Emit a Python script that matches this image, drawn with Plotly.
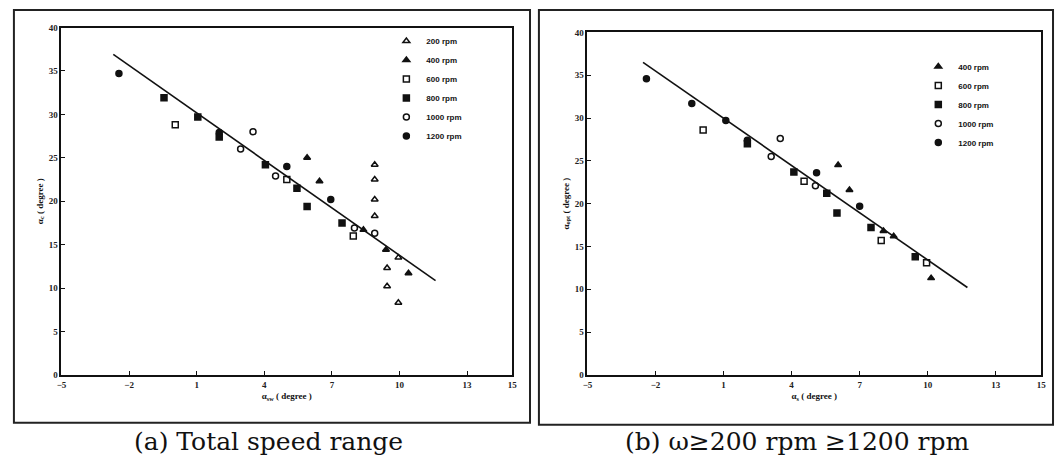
import plotly.graph_objects as go

# ---------------- data ----------------
speeds = ["200 rpm", "400 rpm", "600 rpm", "800 rpm", "1000 rpm", "1200 rpm"]
symbols = ["triangle-up-open", "triangle-up", "square-open", "square", "circle-open", "circle"]

# (a) Total speed range
a_200_x = [8.9, 8.9, 8.9, 8.9, 9.45, 9.45, 9.95, 9.95]
a_200_y = [24.2, 22.5, 20.2, 18.3, 12.3, 10.2, 13.5, 8.3]
a_400_x = [5.9, 6.45, 8.4, 9.4, 10.4]
a_400_y = [25.0, 22.3, 16.7, 14.4, 11.7]
a_600_x = [0.05, 5.0, 7.95]
a_600_y = [28.8, 22.5, 16.0]
a_800_x = [-0.45, 1.05, 2.0, 4.05, 5.45, 7.45, 5.9]
a_800_y = [31.9, 29.7, 27.4, 24.2, 21.5, 17.5, 19.4]
a_1000_x = [2.95, 3.5, 4.5, 8.9, 8.0]
a_1000_y = [26.0, 28.0, 22.9, 16.3, 16.9]
a_1200_x = [-2.45, 2.0, 5.0, 6.95]
a_1200_y = [34.7, 27.9, 24.0, 20.2]
a_fit_x = [-2.7, 11.6]
a_fit_y = [36.9, 10.85]

# (b) 400 .. 1200 rpm
b_400_x = [6.05, 6.55, 8.5, 10.15, 8.05]
b_400_y = [24.5, 21.6, 16.2, 11.3, 16.8]
b_600_x = [0.1, 7.95, 9.95, 4.55]
b_600_y = [28.6, 15.7, 13.1, 22.6]
b_800_x = [2.05, 4.1, 5.55, 6.0, 7.5, 9.45]
b_800_y = [27.0, 23.7, 21.2, 18.9, 17.2, 13.8]
b_1000_x = [3.5, 3.1, 5.05]
b_1000_y = [27.6, 25.5, 22.1]
b_1200_x = [-2.4, -0.4, 1.1, 2.05, 5.1, 7.0]
b_1200_y = [34.6, 31.7, 29.7, 27.4, 23.6, 19.7]
b_fit_x = [-2.55, 11.75]
b_fit_y = [36.5, 10.2]

x_ticks = [-5, -2, 1, 4, 7, 10, 13, 15]
y_ticks = [0, 5, 10, 15, 20, 25, 30, 35, 40]

left_title_y = "α<sub>c</sub> ( degree )"
left_title_x = "α<sub>sw</sub> ( degree )"
right_title_y = "α<sub>opt</sub> ( degree )"
right_title_x = "α<sub>s</sub> ( degree )"
caption_a = "(a) Total speed range"
caption_b = "(b) ω≥200 rpm ≥1200 rpm"

# ---------------- figure ----------------
W, H = 1060, 464
fig = go.Figure()

def px(x):
    return x / W

def py(y):
    return 1 - y / H

mk = dict(color="#111", size=6, line=dict(color="#111", width=1.5))

a_sets = [(a_200_x, a_200_y), (a_400_x, a_400_y), (a_600_x, a_600_y),
          (a_800_x, a_800_y), (a_1000_x, a_1000_y), (a_1200_x, a_1200_y)]
for name, sym, (xs, ys) in zip(speeds, symbols, a_sets):
    fig.add_trace(go.Scatter(x=xs, y=ys, mode="markers", name=name,
                             marker=dict(symbol=sym, **mk),
                             xaxis="x", yaxis="y", legend="legend"))
fig.add_trace(go.Scatter(x=a_fit_x, y=a_fit_y, mode="lines", showlegend=False,
                         line=dict(color="#111", width=1.6), xaxis="x", yaxis="y"))

b_sets = [(b_400_x, b_400_y), (b_600_x, b_600_y), (b_800_x, b_800_y),
          (b_1000_x, b_1000_y), (b_1200_x, b_1200_y)]
for name, sym, (xs, ys) in zip(speeds[1:], symbols[1:], b_sets):
    fig.add_trace(go.Scatter(x=xs, y=ys, mode="markers", name=name,
                             marker=dict(symbol=sym, **mk),
                             xaxis="x2", yaxis="y2", legend="legend2"))
fig.add_trace(go.Scatter(x=b_fit_x, y=b_fit_y, mode="lines", showlegend=False,
                         line=dict(color="#111", width=1.6), xaxis="x2", yaxis="y2"))

tickfont = dict(family="Liberation Serif", size=9, color="#222", weight="bold")
axis_common = dict(showline=True, linecolor="#111", linewidth=2, mirror=True,
                   showgrid=False, zeroline=False, ticks="inside", ticklen=4,
                   tickcolor="#111", tickfont=tickfont)
title_font = dict(size=9, family="Liberation Serif", weight="bold")
legend_font = dict(size=8, family="Liberation Sans", weight="bold", color="#111")
caption_font = dict(size=25, family="DejaVu Serif", color="#111")

fig.update_layout(
    width=W, height=H,
    margin=dict(l=0, r=0, t=0, b=0),
    paper_bgcolor="white", plot_bgcolor="white",
    font=dict(family="Liberation Serif", color="#111"),
    xaxis=dict(domain=[px(57), px(512)], range=[-5, 15], tickvals=x_ticks,
               anchor="y", title=dict(text=left_title_x, font=title_font, standoff=4),
               **axis_common),
    yaxis=dict(domain=[py(378), py(23)], range=[0, 40], tickvals=y_ticks,
               anchor="x", title=dict(text=left_title_y, font=title_font, standoff=4),
               **axis_common),
    xaxis2=dict(domain=[px(588), px(1046)], range=[-5, 15], tickvals=x_ticks,
                anchor="y2", title=dict(text=right_title_x, font=title_font, standoff=4),
                **axis_common),
    yaxis2=dict(domain=[py(378), py(28)], range=[0, 40], tickvals=y_ticks,
                anchor="x2", title=dict(text=right_title_y, font=title_font, standoff=4),
                **axis_common),
    legend=dict(x=px(385), y=py(22), xanchor="left", yanchor="top",
                bgcolor="rgba(0,0,0,0)", font=legend_font,
                tracegroupgap=0, itemwidth=30),
    legend2=dict(x=px(922), y=py(48), xanchor="left", yanchor="top",
                 bgcolor="rgba(0,0,0,0)", font=legend_font,
                 tracegroupgap=0, itemwidth=30),
    shapes=[
        dict(type="rect", xref="paper", yref="paper", x0=px(9), x1=px(530),
             y0=py(427), y1=py(5), line=dict(color="#222", width=2)),
        dict(type="rect", xref="paper", yref="paper", x0=px(539), x1=px(1058),
             y0=py(429), y1=py(5), line=dict(color="#222", width=2)),
    ],
    annotations=[
        dict(text=caption_a, x=px(266), y=py(446), xref="paper", yref="paper",
             xanchor="center", yanchor="middle", showarrow=False, font=caption_font),
        dict(text=caption_b, x=px(800), y=py(446), xref="paper", yref="paper",
             xanchor="center", yanchor="middle", showarrow=False, font=caption_font),
    ],
)

fig.write_html("out.html", config={"displayModeBar": False})

# remove the default page margin so the figure sits at the window origin
with open("out.html", "r", encoding="utf-8") as f:
    html = f.read()
html = html.replace("<head>", "<head><style>html,body{margin:0;padding:0;overflow:hidden}</style>", 1)
with open("out.html", "w", encoding="utf-8") as f:
    f.write(html)
